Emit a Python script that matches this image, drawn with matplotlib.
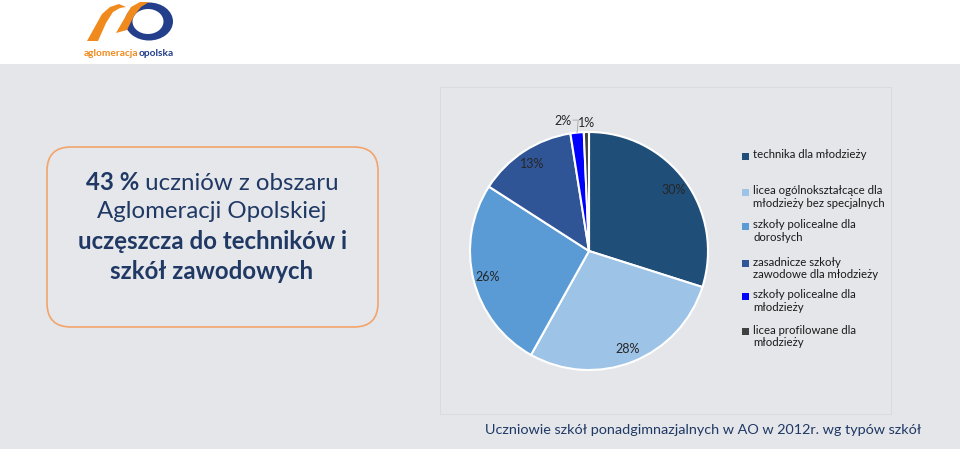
import matplotlib
matplotlib.use("Agg")
import matplotlib.pyplot as plt
from matplotlib.patches import Rectangle, FancyBboxPatch, Ellipse, Polygon
import numpy as np

# ---------------- data ----------------
categories = [
    "technika dla młodzieży",
    "licea ogólnokształcące dla\nmłodzieży bez specjalnych",
    "szkoły policealne dla\ndorosłych",
    "zasadnicze szkoły\nzawodowe dla młodzieży",
    "szkoły policealne dla\nmłodzieży",
    "licea profilowane dla\nmłodzieży",
]
values = [29.9, 28.2, 26.0, 13.4, 1.8, 0.7]
colors = ["#1f4e79", "#9dc3e6", "#5b9bd5", "#2f5597", "#0000ff", "#404040"]
chart_title = "Uczniowie szkół ponadgimnazjalnych w AO w 2012r. wg typów szkół"
box_lines = [
    [("43 %", "bold"), (" uczniów z obszaru", "normal")],
    [("Aglomeracji Opolskiej", "normal")],
    [("uczęszcza do techników i", "bold")],
    [("szkół zawodowych", "bold")],
]
logo_left = "aglomeracja"
logo_right = "opolska"

FONT = "Lato"
W, H = 960, 456
fig = plt.figure(figsize=(W / 100, H / 100), dpi=100, facecolor="white")
renderer = fig.canvas.get_renderer()

def text_width(s, size, weight="normal"):
    t = fig.text(0, 0, s, fontsize=size, fontweight=weight, family=FONT)
    w = t.get_window_extent(renderer).width
    t.remove()
    return w

def fit(s, target, weight="normal"):
    return 10 * target / text_width(s, 10, weight)

# background axis in pixel coords
bg = fig.add_axes([0, 0, 1, 1])
bg.set_xlim(0, W)
bg.set_ylim(H, 0)
bg.axis("off")
bg.add_patch(Rectangle((0, 65), W, 385, facecolor="#e4e6ea", edgecolor="none"))
bg.add_patch(Rectangle((440, 88), 451, 327, facecolor="#e4e6ea", edgecolor="#d9dbdf", lw=0.7))

# rounded text box
bg.add_patch(FancyBboxPatch((47 + 24, 148 + 24), 331 - 48, 180 - 48,
                            boxstyle="round,pad=24", facecolor="#e6e7ea",
                            edgecolor="#f2a46b", lw=1.2))
navy = "#1f3864"
box_size = fit("Aglomeracji Opolskiej", 230)
ys = [183, 212, 242, 272]
for line, y in zip(box_lines, ys):
    widths = [text_width(s, box_size, w) for s, w in line]
    x = 212 - sum(widths) / 2
    for (s, w), wd in zip(line, widths):
        fig.text(x / W, 1 - y / H, s, fontsize=box_size, fontweight=w,
                 family=FONT, color=navy, ha="left", va="center")
        x += wd

# logo
bg.add_patch(Ellipse((149, 22.5), 48, 38, facecolor="#233e8b", edgecolor="none"))
bg.add_patch(Ellipse((148, 22.5), 31, 25, facecolor="white", edgecolor="none"))
bg.add_patch(Polygon([(87, 42), (98, 42), (106, 24), (113, 13), (120, 9), (126, 8),
                      (119, 5), (110, 8), (102, 15)],
                     closed=True, facecolor="#f08a1c", edgecolor="none"))
bg.add_patch(Polygon([(116, 34), (127, 31), (134, 17), (141, 8), (149, 3),
                      (140, 3), (131, 8)],
                     closed=True, facecolor="#f08a1c", edgecolor="none"))
ls = fit(logo_left + logo_right, 89, "bold")
wl = text_width(logo_left, ls, "bold")
fig.text(84 / W, 1 - 53 / H, logo_left, fontsize=ls, fontweight="bold", family=FONT,
         color="#f08a1c", va="center")
fig.text((84 + wl) / W, 1 - 53 / H, logo_right, fontsize=ls, fontweight="bold",
         family=FONT, color="#233e8b", va="center")

# pie
cx, cy, r = 589, 252, 119
ax = fig.add_axes([(cx - r) / W, (H - cy - r) / H, 2 * r / W, 2 * r / H])
ax.set_facecolor("none")

def autopct(p):
    return "%.0f%%" % p if p >= 5 else ""

lab_color = "#262626"
wedges, texts, autotexts = ax.pie(values, colors=colors, startangle=90, counterclock=False,
                                  autopct=autopct, pctdistance=0.88,
                                  wedgeprops=dict(edgecolor="white", linewidth=1.5),
                                  textprops=dict(family=FONT, fontsize=9, color=lab_color))
ax.set_xlim(-1, 1)
ax.set_ylim(-1, 1)
ax.axis("off")

small = [i for i, v in enumerate(values) if v / sum(values) * 100 < 5]
offsets = {small[0]: (-0.12, 0.105), small[1]: (0.0, 0.085)}
for i in small:
    w = wedges[i]
    th = np.deg2rad((w.theta1 + w.theta2) / 2)
    x0, y0 = np.cos(th), np.sin(th)
    dx, dy = offsets[i]
    lbl = "%.0f%%" % (values[i] / sum(values) * 100)
    ax.text(x0 + dx, y0 + dy, lbl, ha="center", va="center", family=FONT,
            fontsize=9, color=lab_color, clip_on=False)
    if i == small[0]:
        ax.plot([x0 + dx + 0.085, x0 + 0.01, x0], [y0 + dy, y0 + dy, y0],
                color="#a6a6a6", lw=0.6, clip_on=False)

# legend
leg_size = fit(categories[0], 110) * 1.03
leg_y = [157, 193, 227, 264, 297, 332]
for c, lab, y in zip(colors, categories, leg_y):
    bg.add_patch(Rectangle((742, y - 3.5), 7, 7, facecolor=c, edgecolor="none"))
    fig.text(753 / W, 1 - (y - 7.5) / H, lab, fontsize=leg_size, family=FONT,
             color="#1a1a1a", va="top", ha="left", linespacing=1.15)

# title
ts = fit(chart_title, 438)
fig.text(703 / W, 1 - 430 / H, chart_title, fontsize=ts, family=FONT, color=navy,
         ha="center", va="center")

fig.savefig("out.png", dpi=100, facecolor="white")
